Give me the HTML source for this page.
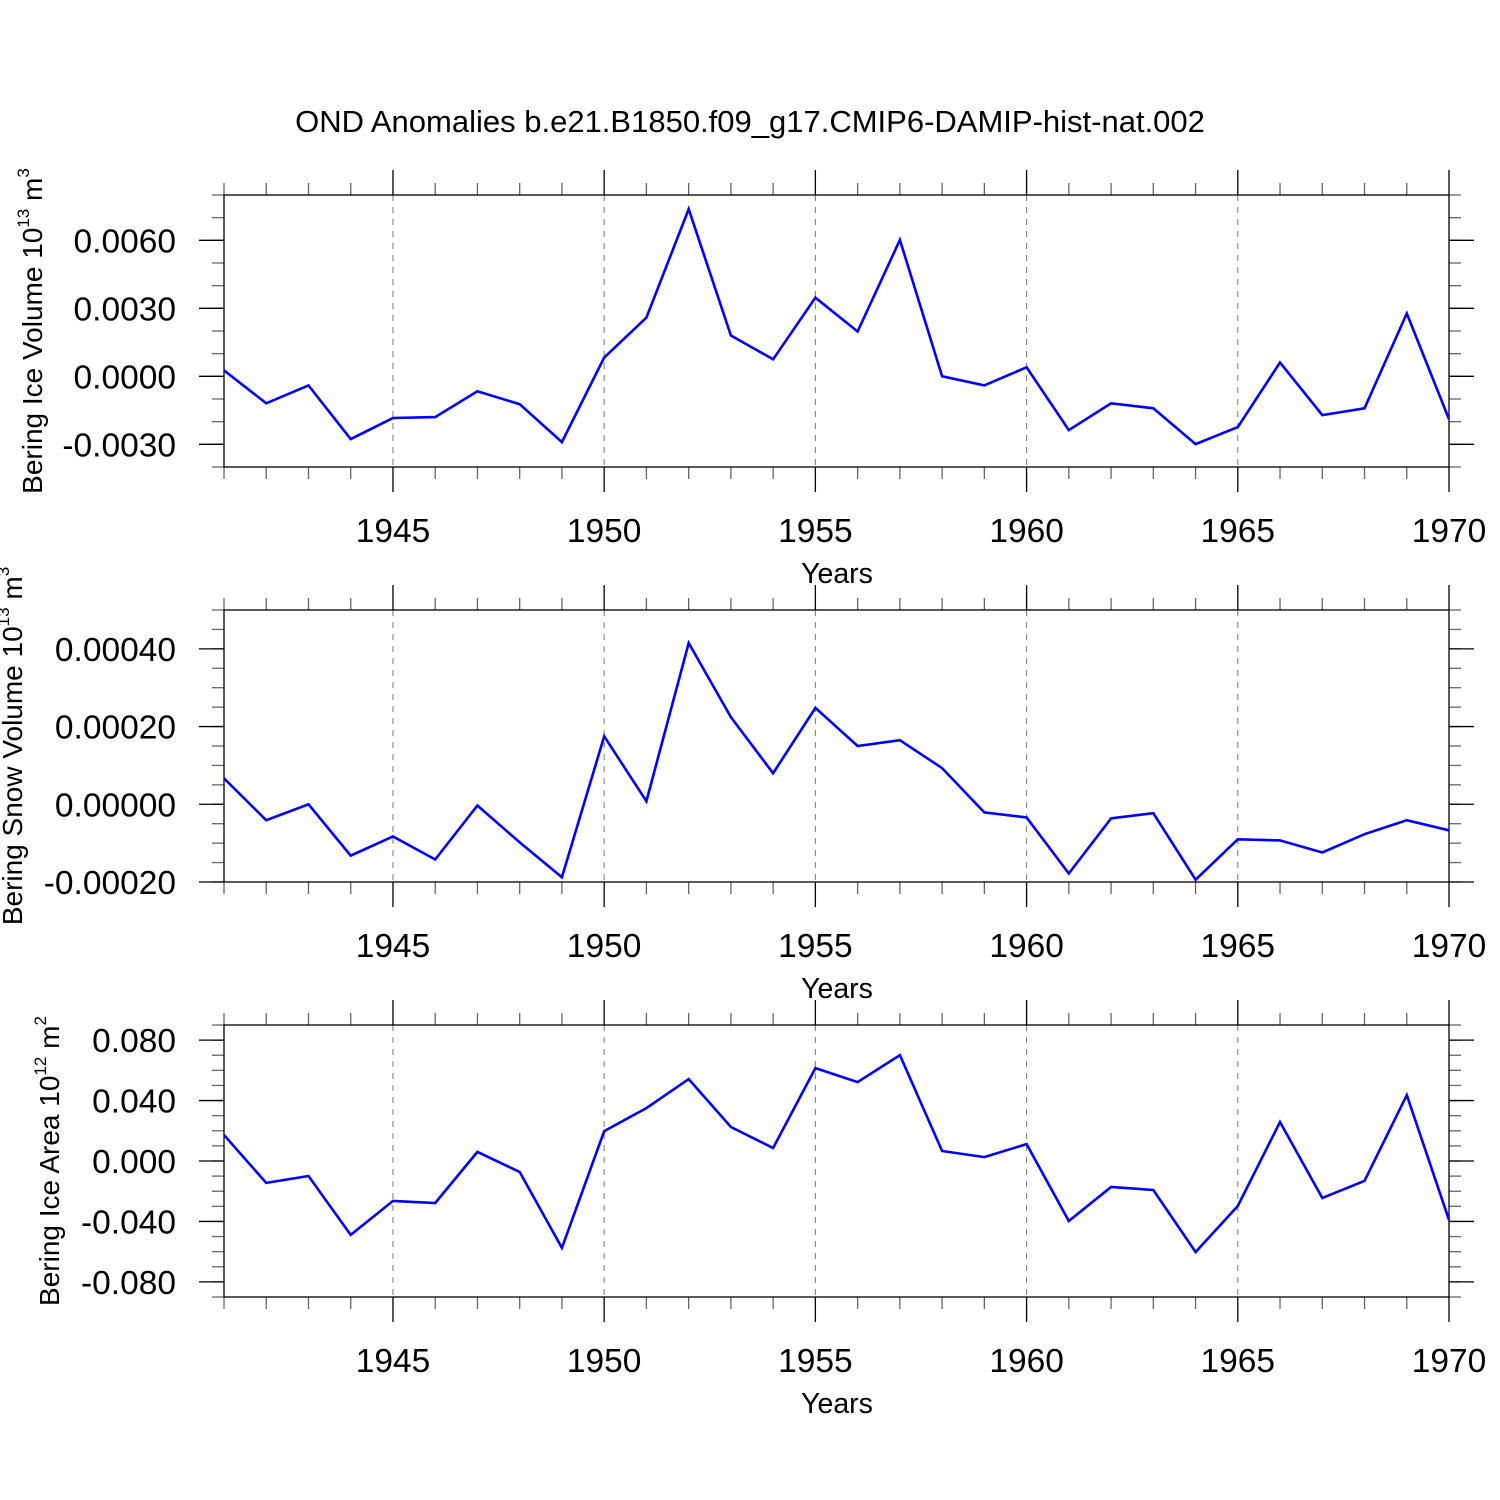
<!DOCTYPE html>
<html><head><meta charset="utf-8"><style>
html,body{margin:0;padding:0;background:#fff;}
svg{display:block;font-family:"Liberation Sans",sans-serif;}
</style></head><body>
<svg id="chart" width="1500" height="1500" viewBox="0 0 1500 1500">
<text x="750" y="132" text-anchor="middle" font-size="31">OND Anomalies b.e21.B1850.f09_g17.CMIP6-DAMIP-hist-nat.002</text>
</svg>
<script>
const years = [];
for (let y = 1941; y <= 1970; y++) years.push(y);
const xTickLabels = ["1945","1950","1955","1960","1965","1970"];
const iceVolume = [0.00026,-0.00119,-0.0004,-0.00277,-0.00184,-0.0018,-0.00066,-0.00123,-0.0029,0.00083,0.00259,0.00738,0.0018,0.00075,0.00347,0.00198,0.00602,0.0,-0.0004,0.0004,-0.00237,-0.00119,-0.00141,-0.00299,-0.00224,0.00061,-0.00171,-0.00141,0.00277,-0.00189];
const snowVolume = [0.000067,-0.000041,0.0,-0.000132,-0.000083,-0.000142,-0.000003,-0.000098,-0.000188,0.000175,0.000008,0.000415,0.000224,0.00008,0.000248,0.00015,0.000165,0.000093,-0.000021,-0.000034,-0.000178,-0.000036,-0.000023,-0.000194,-0.00009,-0.000093,-0.000124,-0.000077,-0.000041,-0.000067];
const iceArea = [0.0172,-0.0145,-0.0099,-0.0489,-0.0264,-0.0278,0.006,-0.0073,-0.0575,0.0198,0.035,0.0542,0.0225,0.0086,0.0615,0.0522,0.0701,0.0066,0.0026,0.0112,-0.0397,-0.0172,-0.0192,-0.0602,-0.0298,0.0258,-0.0245,-0.0132,0.0436,-0.039];
const iceVolTicks = ["0.0060","0.0030","0.0000","-0.0030"];
const snowTicks = ["0.00040","0.00020","0.00000","-0.00020"];
const areaTicks = ["0.080","0.040","0.000","-0.040","-0.080"];

const NS = "http://www.w3.org/2000/svg";
const svg = document.getElementById('chart');
const X0 = 224, X1 = 1449;
function xScale(yr){ return X0 + (yr - 1941) / (1970 - 1941) * (X1 - X0); }
function mk(tag, attrs, parent){
  const e = document.createElementNS(NS, tag);
  for (const k in attrs) e.setAttribute(k, attrs[k]);
  (parent || svg).appendChild(e);
  return e;
}

function panel(id, top, bot, ymin, ymax, minorStep, tickLabels, data, titleMain, titleExp, titleUnit, titleX){
  const g = mk('g', {});
  
  
  const yS = v => bot - (v - ymin) / (ymax - ymin) * (bot - top);
  xTickLabels.forEach(t => {
    const yr = +t; if (yr >= 1970) return;
    const gl = mk('line', {x1:xScale(yr), x2:xScale(yr), y1:top, y2:bot, stroke:'#777', 'stroke-width':1, 'stroke-dasharray':'6,6'}, g);
    
    
  });
  years.forEach(yr => {
    const major = yr % 5 === 0;
    const x = xScale(yr);
    const L = major ? 25 : 12;
    mk('line', {x1:x, x2:x, y1:top - L, y2:top, stroke:major?'#000':'#666', 'stroke-width':1.3}, g);
    mk('line', {x1:x, x2:x, y1:bot, y2:bot + L, stroke:major?'#000':'#666', 'stroke-width':1.3}, g);
  });
  xTickLabels.forEach(t => {
    const tl = mk('text', {x:xScale(+t), y:bot + 75, 'text-anchor':'middle', 'font-size':33.5}, g);
    tl.textContent = t;
    
    
  });
  const n = Math.round((ymax - ymin) / minorStep);
  for (let i = 0; i <= n; i++) {
    const y = yS(ymin + i * minorStep);
    mk('line', {x1:X0 - 12, x2:X0, y1:y, y2:y, stroke:'#666', 'stroke-width':1.3}, g);
    mk('line', {x1:X1, x2:X1 + 12, y1:y, y2:y, stroke:'#666', 'stroke-width':1.3}, g);
  }
  tickLabels.forEach(t => {
    const y = yS(parseFloat(t));
    mk('line', {x1:X0 - 25, x2:X0, y1:y, y2:y, stroke:'#000', 'stroke-width':1.3}, g);
    mk('line', {x1:X1, x2:X1 + 25, y1:y, y2:y, stroke:'#000', 'stroke-width':1.3}, g);
    const tl = mk('text', {x:176, y:y + 12, 'text-anchor':'end', 'font-size':33.5}, g);
    tl.textContent = t;
    
    
  });
  const fr = mk('rect', {x:X0, y:top, width:X1 - X0, height:bot - top, fill:'none', stroke:'#000', 'stroke-width':1.3}, g);
  
  
  const pts = data.map((v, i) => xScale(years[i]).toFixed(1) + ',' + yS(v).toFixed(1)).join(' ');
  const pl = mk('polyline', {points:pts, fill:'none', stroke:'#0000ff', 'stroke-width':2.6, 'stroke-linejoin':'miter'}, g);
  
  
  const xt = mk('text', {x:837, y:bot + 116, 'text-anchor':'middle', 'font-size':28.5}, g);
  xt.textContent = 'Years';
  
  
  const cy = (top + bot) / 2;
  const yt = mk('text', {x:0, y:0, 'text-anchor':'middle', 'font-size':28, transform:'translate(' + titleX + ',' + cy + ') rotate(-90)'}, g);
  
  
  const t1 = document.createElementNS(NS, 'tspan'); t1.textContent = titleMain; yt.appendChild(t1);
  const t2 = document.createElementNS(NS, 'tspan'); t2.setAttribute('dy', '-13'); t2.setAttribute('font-size', '17'); t2.textContent = titleExp; yt.appendChild(t2);
  const t3 = document.createElementNS(NS, 'tspan'); t3.setAttribute('dy', '13'); t3.textContent = titleUnit; yt.appendChild(t3);
  const t4 = document.createElementNS(NS, 'tspan'); t4.setAttribute('dy', '-13'); t4.setAttribute('font-size', '17'); t4.textContent = titleExp === '12' ? '2' : '3'; yt.appendChild(t4);
}

panel('ice-volume', 195, 467, -0.004, 0.008, 0.001, iceVolTicks, iceVolume, 'Bering Ice Volume 10', '13', ' m', 42);
panel('snow-volume', 610, 882, -0.0002, 0.0005, 0.00005, snowTicks, snowVolume, 'Bering Snow Volume 10', '13', ' m', 22);
panel('ice-area', 1025, 1297, -0.09, 0.09, 0.01, areaTicks, iceArea, 'Bering Ice Area 10', '12', ' m', 59);
</script>
</body></html>
